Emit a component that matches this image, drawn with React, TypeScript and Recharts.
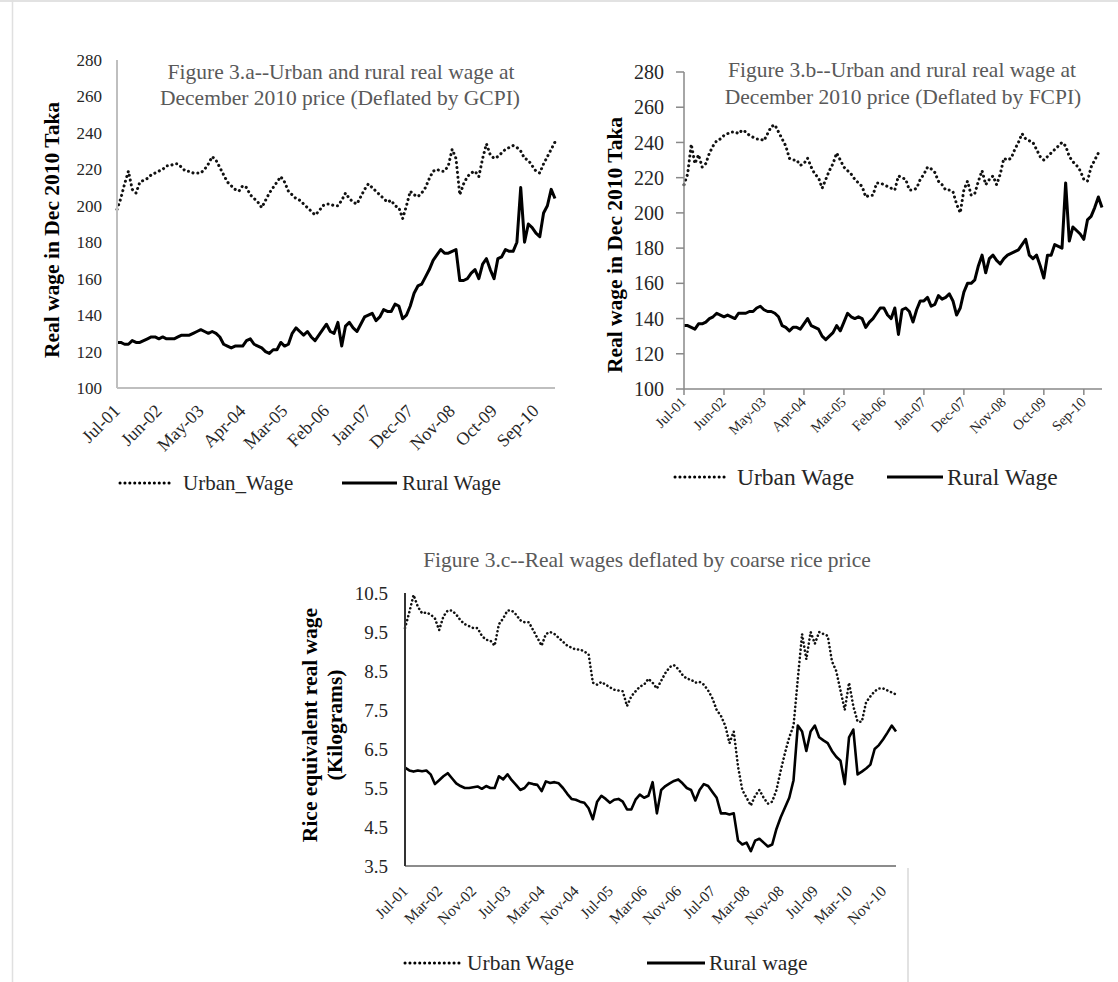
import React from "react";
import { LineChart, Line, XAxis, YAxis } from "recharts";

const SERIF = '"Liberation Serif", "Times New Roman", Times, serif';

const MONTH_NAMES = ["Jan", "Feb", "Mar", "Apr", "May", "Jun", "Jul", "Aug", "Sep", "Oct", "Nov", "Dec"];
// monthly categories, Jul-01 .. Feb-11
const months: string[] = Array.from({ length: 116 }, (_, i) => {
  const k = 6 + i;
  return `${MONTH_NAMES[k % 12]}-${String(1 + Math.floor(k / 12)).padStart(2, "0")}`;
});

// Fig 3.a, deflated by GCPI (Dec 2010 Taka)
const urbanGcpi = [
  198, 204, 212, 219, 209, 207, 213, 214, 215, 217, 218, 219, 220, 222, 222, 223, 223, 221, 219, 219,
  218, 218, 218, 220, 223, 227, 225, 221, 217, 213, 211, 209, 208, 211, 210, 206, 204, 202, 199, 203,
  207, 210, 213, 216, 213, 208, 206, 204, 203, 201, 199, 197, 195, 197, 200, 201, 201, 200, 200, 203,
  207, 204, 202, 201, 205, 209, 212, 210, 208, 206, 204, 202, 203, 200, 199, 193, 200, 208, 206, 205,
  207, 210, 215, 219, 220, 219, 219, 222, 231, 226, 206, 212, 216, 218, 219, 216, 226, 234, 228, 226,
  227, 229, 231, 232, 233, 232, 230, 226, 225, 222, 219, 218, 223, 227, 231, 235,
];
const ruralGcpi = [
  125, 125, 124, 124, 126, 125, 125, 126, 127, 128, 128, 127, 128, 127, 127, 127, 128, 129, 129, 129,
  130, 131, 132, 131, 130, 131, 130, 128, 124, 123, 122, 123, 123, 123, 126, 127, 124, 123, 122, 120,
  119, 121, 121, 125, 123, 124, 130, 133, 131, 129, 131, 128, 126, 129, 132, 135, 131, 130, 136, 123,
  134, 136, 133, 131, 135, 139, 140, 141, 137, 139, 143, 142, 142, 146, 145, 138, 140, 145, 152, 156,
  157, 161, 165, 170, 173, 176, 174, 174, 175, 176, 159, 159, 160, 163, 165, 160, 168, 171, 165, 160,
  171, 172, 176, 175, 175, 180, 210, 180, 190, 188, 185, 183, 196, 200, 209, 204,
];

// Fig 3.b, deflated by FCPI
const urbanFcpi = [
  216, 222, 239, 228, 233, 226, 228, 234, 238, 241, 242, 244, 245, 246, 246, 245, 247, 246, 244, 243,
  242, 242, 241, 245, 249, 250, 246, 242, 238, 231, 230, 230, 227, 228, 231, 226, 222, 220, 214, 219,
  224, 228, 234, 230, 226, 224, 222, 219, 217, 215, 209, 210, 210, 217, 217, 216, 215, 214, 213, 221,
  220, 219, 213, 213, 214, 219, 222, 226, 225, 223, 218, 216, 213, 213, 212, 205, 200, 213, 218, 210,
  211, 218, 224, 216, 219, 221, 216, 222, 231, 230, 231, 236, 240, 245, 242, 241, 240, 236, 232, 230,
  232, 234, 236, 238, 240, 238, 232, 229, 227, 224, 219, 218, 226, 230, 234, 233,
];
const ruralFcpi = [
  136, 136, 135, 134, 137, 137, 138, 140, 141, 143, 142, 141, 142, 141, 140, 143, 143, 143, 144, 144,
  146, 147, 145, 144, 144, 143, 141, 136, 135, 133, 135, 135, 134, 137, 140, 136, 135, 134, 130, 128,
  130, 132, 136, 133, 138, 143, 141, 140, 141, 140, 135, 138, 140, 143, 146, 146, 142, 140, 146, 131,
  145, 146, 144, 138, 145, 150, 150, 152, 147, 148, 153, 151, 152, 154, 150, 142, 146, 155, 160, 160,
  162, 170, 176, 166, 174, 176, 173, 171, 174, 176, 177, 178, 179, 182, 185, 176, 174, 176, 170, 163,
  176, 176, 182, 181, 180, 217, 184, 192, 190, 188, 185, 196, 198, 203, 209, 203,
];

// Fig 3.c, kilograms of coarse rice
const urbanRice = [
  9.6, 10.0, 10.45, 10.15, 9.98, 10.0, 9.95, 9.85, 9.55, 9.9, 10.05, 10.05, 9.95, 9.8, 9.7, 9.65, 9.6, 9.6, 9.4, 9.3,
  9.28, 9.15, 9.7, 9.85, 10.05, 10.05, 9.95, 9.8, 9.75, 9.75, 9.55, 9.35, 9.15, 9.45, 9.5, 9.45, 9.35, 9.25, 9.15, 9.1,
  9.05, 9.05, 9.0, 8.93, 8.2, 8.15, 8.22, 8.15, 8.08, 8.02, 8.0, 7.98, 7.6, 7.85, 7.98, 8.1, 8.15, 8.3, 8.2, 8.05,
  8.25, 8.45, 8.6, 8.65, 8.55, 8.4, 8.3, 8.28, 8.2, 8.22, 8.15, 8.0, 7.8, 7.5, 7.35, 7.1, 6.65, 6.95, 6.05, 5.45,
  5.25, 5.05, 5.3, 5.45, 5.25, 5.1, 5.15, 5.45, 5.95, 6.4, 6.8, 7.1, 8.3, 9.45, 8.8, 9.5, 9.2, 9.5, 9.45, 9.4,
  8.75, 8.5, 8.0, 7.5, 8.2, 7.6, 7.2, 7.2, 7.7, 7.85, 7.98, 8.05, 8.05, 8.0, 7.95, 7.9,
];
const ruralRice = [
  6.02, 5.95, 5.92, 5.95, 5.93, 5.95, 5.85, 5.6, 5.7, 5.8, 5.88, 5.75, 5.62, 5.55, 5.5, 5.5, 5.52, 5.54, 5.48, 5.55,
  5.5, 5.5, 5.8, 5.72, 5.85, 5.7, 5.58, 5.45, 5.5, 5.63, 5.6, 5.58, 5.42, 5.67, 5.63, 5.65, 5.62, 5.5, 5.35, 5.22,
  5.2, 5.15, 5.12, 4.98, 4.7, 5.15, 5.3, 5.22, 5.12, 5.2, 5.22, 5.15, 4.95, 4.95, 5.2, 5.33, 5.25, 5.3, 5.65, 4.85,
  5.45, 5.55, 5.62, 5.68, 5.72, 5.62, 5.5, 5.45, 5.18, 5.45, 5.6, 5.55, 5.4, 5.25, 4.85, 4.85, 4.82, 4.85, 4.15, 4.05,
  4.1, 3.88, 4.15, 4.2, 4.1, 4.0, 4.05, 4.45, 4.75, 5.0, 5.25, 5.7, 7.1, 6.95, 6.45, 6.95, 7.1, 6.8, 6.72, 6.65,
  6.45, 6.3, 6.2, 5.6, 6.8, 7.0, 5.85, 5.92, 6.0, 6.1, 6.5, 6.6, 6.75, 6.92, 7.1, 6.95,
];

const takaTicks = [100, 120, 140, 160, 180, 200, 220, 240, 260, 280];
const riceTicks = [3.5, 4.5, 5.5, 6.5, 7.5, 8.5, 9.5, 10.5];

const toRows = (urban: number[], rural: number[]) =>
  months.map((m, i) => ({ month: m, urban: urban[i], rural: rural[i] }));

const gcpiRows = toRows(urbanGcpi, ruralGcpi);
const fcpiRows = toRows(urbanFcpi, ruralFcpi);
const riceRows = toRows(urbanRice, ruralRice);

const DOTS = "0.1 4.8";
const FINE_DOTS = "0.1 4";

function slantTick(fontSize: number, ox: number, oy: number) {
  return (p: any) => {
    const x = p.x + ox;
    const y = p.y + oy;
    return (
      <text
        x={x}
        y={y}
        textAnchor="end"
        fontSize={fontSize}
        fontFamily={SERIF}
        fill="#262626"
        transform={`rotate(-45, ${x}, ${y})`}
      >
        {p.payload.value}
      </text>
    );
  };
}

function seriesLines(width: number, dots: string, dotWidth: number) {
  return [
    <Line
      key="u"
      type="linear"
      dataKey="urban"
      stroke="#111"
      strokeWidth={dotWidth}
      strokeDasharray={dots}
      strokeLinecap="round"
      dot={false}
      activeDot={false}
      isAnimationActive={false}
    />,
    <Line
      key="r"
      type="linear"
      dataKey="rural"
      stroke="#000"
      strokeWidth={width}
      strokeLinejoin="round"
      dot={false}
      activeDot={false}
      isAnimationActive={false}
    />,
  ];
}

function LegendPair({ y, size, items }: { y: number; size: number; items: { x1: number; x2: number; tx: number; label: string; dotted: boolean }[] }) {
  return (
    <g>
      {items.map((it) => (
        <g key={it.label}>
          <line
            x1={it.x1}
            x2={it.x2}
            y1={y}
            y2={y}
            stroke="#000"
            strokeWidth={3}
            strokeLinecap={it.dotted ? "round" : "butt"}
            strokeDasharray={it.dotted ? DOTS : undefined}
          />
          <text x={it.tx} y={y} dominantBaseline="central" fontSize={size} fontFamily={SERIF} fill="#262626">
            {it.label}
          </text>
        </g>
      ))}
    </g>
  );
}

export default function App() {
  const tickFont = { fontFamily: SERIF, fill: "#262626" };
  return (
    <div style={{ position: "relative", width: 1118, height: 982, background: "#fff", overflow: "hidden" }}>
      <style>{`body{margin:0}`}</style>

      {/* Figure 3.a */}
      <div style={{ position: "absolute", left: 0, top: 0 }}>
        <LineChart width={570} height={460} data={gcpiRows} margin={{ top: 60, right: 15, bottom: 0, left: 0 }}>
          <XAxis
            dataKey="month"
            interval={10}
            height={72}
            tickSize={6}
            tickMargin={0}
            tickLine={false}
            axisLine={{ stroke: "#bfbfbf", strokeWidth: 2 }}
            tick={slantTick(18, 4, 18)}
          />
          <YAxis
            domain={[100, 280]}
            ticks={takaTicks}
            interval={0}
            width={117}
            tickLine={false}
            tickSize={6}
            tickMargin={9}
            axisLine={{ stroke: "#bfbfbf", strokeWidth: 2 }}
            tick={{ ...tickFont, fontSize: 17 }}
          />
          {seriesLines(3, DOTS, 3)}
        </LineChart>
      </div>

      {/* Figure 3.b */}
      <div style={{ position: "absolute", left: 560, top: 0 }}>
        <LineChart width={560} height={460} data={fcpiRows} margin={{ top: 72, right: 18, bottom: 0, left: 0 }}>
          <XAxis
            dataKey="month"
            interval={10}
            height={71}
            tickSize={6}
            tickMargin={0}
            tickLine={{ stroke: "#888", strokeWidth: 1.5 }}
            axisLine={{ stroke: "#888", strokeWidth: 1.5 }}
            tick={slantTick(14.5, 3, 8)}
          />
          <YAxis
            domain={[100, 280]}
            ticks={takaTicks}
            interval={0}
            width={124}
            tickSize={8}
            tickMargin={12}
            tickLine={{ stroke: "#888", strokeWidth: 1.5 }}
            axisLine={{ stroke: "#888", strokeWidth: 1.5 }}
            tick={{ ...tickFont, fontSize: 20 }}
          />
          {seriesLines(3, DOTS, 3)}
        </LineChart>
      </div>

      {/* Figure 3.c */}
      <div style={{ position: "absolute", left: 250, top: 500 }}>
        <LineChart width={660} height={430} data={riceRows} margin={{ top: 93, right: 14, bottom: 0, left: 0 }}>
          <XAxis
            dataKey="month"
            interval={7}
            height={64}
            tickSize={6}
            tickMargin={0}
            tickLine={false}
            axisLine={{ stroke: "#8c8c8c", strokeWidth: 2 }}
            tick={slantTick(15.5, 4, 20)}
          />
          <YAxis
            domain={[3.5, 10.5]}
            ticks={riceTicks}
            interval={0}
            width={155}
            tickLine={false}
            tickSize={6}
            tickMargin={11}
            axisLine={{ stroke: "#333", strokeWidth: 2 }}
            tickFormatter={(v: number) => v.toFixed(1)}
            tick={{ ...tickFont, fontSize: 19 }}
          />
          {seriesLines(2.6, FINE_DOTS, 2.6)}
        </LineChart>
      </div>

      {/* titles, axis titles, legends */}
      <svg
        width={1118}
        height={982}
        style={{ position: "absolute", left: 0, top: 0, pointerEvents: "none" }}
      >
        <line x1={0} x2={1118} y1={1} y2={1} stroke="#d9d9d9" strokeWidth={1.5} />
        <line x1={12.5} x2={12.5} y1={0} y2={982} stroke="#e0e0e0" strokeWidth={1.5} />
        <line x1={908} x2={908} y1={868} y2={982} stroke="#d9d9d9" strokeWidth={1.5} />

        <g fontFamily={SERIF} fontSize={21.5} fill="#595959" textAnchor="middle">
          <text x={341} y={72} dominantBaseline="central">Figure 3.a--Urban and rural real wage at</text>
          <text x={340} y={98} dominantBaseline="central">December 2010 price (Deflated by GCPI)</text>
          <text x={902} y={70} dominantBaseline="central">Figure 3.b--Urban and rural real wage at</text>
          <text x={903} y={97} dominantBaseline="central">December 2010 price (Deflated by FCPI)</text>
          <text x={647} y={560} dominantBaseline="central">Figure 3.c--Real wages deflated by coarse rice price</text>
        </g>

        <g fontFamily={SERIF} fontSize={21.5} fontWeight="bold" fill="#000" textAnchor="middle">
          <text x={52} y={230} dominantBaseline="central" transform="rotate(-90, 52, 230)">Real wage in Dec 2010 Taka</text>
          <text x={615} y={245} dominantBaseline="central" transform="rotate(-90, 615, 245)">Real wage in Dec 2010 Taka</text>
          <text x={310} y={725} dominantBaseline="central" transform="rotate(-90, 310, 725)">Rice equivalent real wage</text>
          <text x={335} y={725} dominantBaseline="central" transform="rotate(-90, 335, 725)">(Kilograms)</text>
        </g>

        <LegendPair
          y={483}
          size={21}
          items={[
            { x1: 120, x2: 173, tx: 183, label: "Urban_Wage", dotted: true },
            { x1: 342, x2: 397, tx: 402, label: "Rural Wage", dotted: false },
          ]}
        />
        <LegendPair
          y={477}
          size={23.5}
          items={[
            { x1: 675, x2: 728, tx: 737, label: "Urban Wage", dotted: true },
            { x1: 887, x2: 943, tx: 947, label: "Rural Wage", dotted: false },
          ]}
        />
        <LegendPair
          y={963}
          size={21.5}
          items={[
            { x1: 405, x2: 461, tx: 467, label: "Urban Wage", dotted: true },
            { x1: 647, x2: 705, tx: 709, label: "Rural wage", dotted: false },
          ]}
        />
      </svg>
    </div>
  );
}
